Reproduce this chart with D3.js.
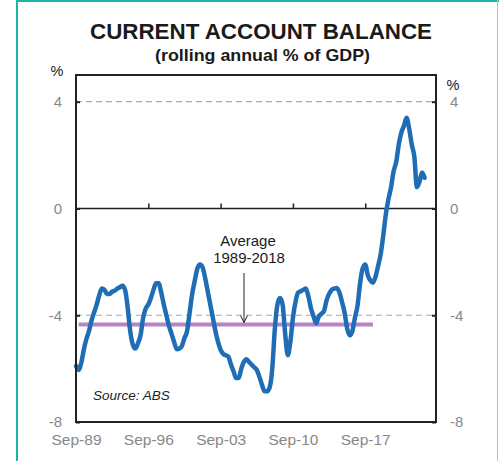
<!DOCTYPE html>
<html>
<head>
<meta charset="utf-8">
<script src="https://cdn.jsdelivr.net/npm/d3@7"></script>
<style>
  html, body { margin: 0; padding: 0; background: #fff; }
  svg { display: block; font-family: Arial, "Liberation Sans", Helvetica, sans-serif; }
</style>
</head>
<body>
<svg id="chart" width="499" height="461"></svg>
<script>
// Quarterly current account balance, rolling annual % of GDP, Sep-1989 onwards
const startYear = 1989.75;
const balance = [
  -5.9, -6.05, -5.8, -5.3, -4.9, -4.6, -4.2, -3.9, -3.6, -3.25,
  -3.0, -3.05, -3.2, -3.2, -3.12, -3.08, -3.0, -2.95, -2.9, -3.05,
  -3.7, -4.6, -5.1, -5.25, -5.05, -4.75, -4.1, -3.75, -3.6, -3.35,
  -3.05, -2.8, -2.8, -3.15, -3.6, -4.0, -4.4, -4.7, -5.0, -5.27,
  -5.25, -5.15, -4.85, -4.6, -3.9, -3.2, -2.7, -2.25, -2.1, -2.2,
  -2.6, -3.1, -3.6, -4.1, -4.6, -5.0, -5.3, -5.45, -5.5, -5.55,
  -5.85, -6.1, -6.35, -6.35, -6.0, -5.75, -5.65, -5.75, -5.85, -5.95,
  -6.05, -6.3, -6.6, -6.85, -6.85, -6.7, -6.0, -4.5, -3.6, -3.35,
  -3.6, -4.7, -5.5, -5.0, -4.1, -3.5, -3.15, -3.1, -3.05, -3.0,
  -3.3, -3.75, -4.05, -4.3, -4.05, -3.95, -3.85, -3.45, -3.2, -3.05,
  -3.0, -2.98, -3.15, -3.5, -3.9, -4.5, -4.75, -4.6, -4.1, -3.65,
  -2.8, -2.25, -2.1, -2.5, -2.7, -2.78, -2.55, -2.15, -1.7, -1.0,
  -0.2, 0.35, 0.8, 1.4, 1.75, 2.4, 2.85, 3.1, 3.4, 3.0,
  2.4, 1.95, 0.8, 1.0, 1.35, 1.15
];
// Average over 1989-2018 and the span it covers (decimal years)
const averageValue = -4.35;
const averageSpan = [1990.0, 2018.5];

const yTicks = [4, 0, -4, -8];
const gridValues = [4, -4];
const xTickYears = [1989.75, 1996.75, 2003.75, 2010.75, 2017.75];
const xTickLabels = ["Sep-89", "Sep-96", "Sep-03", "Sep-10", "Sep-17"];

const title = "CURRENT ACCOUNT BALANCE";
const subtitle = "(rolling annual % of GDP)";
const sourceNote = "Source: ABS";
const avgLabel = ["Average", "1989-2018"];

const svg = d3.select("#chart");
const plot = { left: 76, right: 436, top: 75, bottom: 422 };

const x = d3.scaleLinear().domain([1989.75, 2024.6]).range([plot.left, plot.right]);
const y = d3.scaleLinear().domain([-8, 5]).range([plot.bottom, plot.top]);

const series = balance.map((v, i) => ({ t: startYear + i * 0.25, v }));

// Outer teal frame
svg.append("line").attr("x1", 17).attr("x2", 17).attr("y1", 0).attr("y2", 461)
  .attr("stroke", "#1fb3a8").attr("stroke-width", 2);
svg.append("line").attr("x1", 16).attr("x2", 499).attr("y1", 1).attr("y2", 1)
  .attr("stroke", "#1fb3a8").attr("stroke-width", 2);
svg.append("line").attr("x1", 497.5).attr("x2", 497.5).attr("y1", 0).attr("y2", 461)
  .attr("stroke", "#86d8d1").attr("stroke-width", 1);

// Titles
svg.append("text").attr("x", 90).attr("y", 39)
  .attr("textLength", 342).attr("lengthAdjust", "spacingAndGlyphs")
  .attr("font-size", 21.5).attr("font-weight", "bold").attr("fill", "#1a1a1a").text(title);
svg.append("text").attr("x", 155).attr("y", 61)
  .attr("textLength", 215).attr("lengthAdjust", "spacingAndGlyphs")
  .attr("font-size", 16.5).attr("font-weight", "bold").attr("fill", "#1a1a1a").text(subtitle);

// Unit labels
svg.append("text").attr("x", 57).attr("y", 76).attr("text-anchor", "middle")
  .attr("font-size", 14.5).attr("fill", "#222").text("%");
svg.append("text").attr("x", 453).attr("y", 90).attr("text-anchor", "middle")
  .attr("font-size", 14.5).attr("fill", "#222").text("%");

// Dashed gridlines
svg.append("g").selectAll("line").data(gridValues).join("line")
  .attr("x1", plot.left).attr("x2", plot.right)
  .attr("y1", d => y(d)).attr("y2", d => y(d))
  .attr("stroke", "#aaaaaa").attr("stroke-width", 1.2).attr("stroke-dasharray", "6,4");

// Left and right value axes
const yFmt = d => String(d);
const leftAxis = svg.append("g").attr("transform", `translate(${plot.left},0)`)
  .call(d3.axisLeft(y).tickValues(yTicks).tickSize(-4).tickPadding(14).tickFormat(yFmt));
const rightAxis = svg.append("g").attr("transform", `translate(${plot.right},0)`)
  .call(d3.axisRight(y).tickValues(yTicks).tickSize(-4).tickPadding(14).tickFormat(yFmt));
[leftAxis, rightAxis].forEach(g => {
  g.select(".domain").remove();
  g.selectAll(".tick line").attr("stroke", "#222").attr("stroke-width", 2);
  g.selectAll(".tick text").attr("font-size", 15).attr("fill", "#888")
    .attr("font-family", "Arial, 'Liberation Sans', sans-serif");
});

// Zero line with upward ticks
const zeroAxis = svg.append("g").attr("transform", `translate(0,${y(0)})`)
  .call(d3.axisTop(x).tickValues(xTickYears.slice(1)).tickSize(5).tickFormat(""));
zeroAxis.select(".domain").remove();
zeroAxis.selectAll(".tick line").attr("stroke", "#222").attr("stroke-width", 1.5);
svg.append("line").attr("x1", plot.left).attr("x2", plot.right)
  .attr("y1", y(0)).attr("y2", y(0)).attr("stroke", "#222").attr("stroke-width", 1.5);

// Date labels under the plot
const bottomAxis = svg.append("g").attr("transform", `translate(0,${plot.bottom})`)
  .call(d3.axisBottom(x).tickValues(xTickYears).tickSize(0).tickPadding(12)
    .tickFormat((d, i) => xTickLabels[i]));
bottomAxis.select(".domain").remove();
bottomAxis.selectAll(".tick text").attr("font-size", 15.5).attr("fill", "#888")
  .attr("font-family", "Arial, 'Liberation Sans', sans-serif");

// Average line
svg.append("line")
  .attr("x1", x(averageSpan[0])).attr("x2", x(averageSpan[1]))
  .attr("y1", y(averageValue)).attr("y2", y(averageValue))
  .attr("stroke", "#b884c4").attr("stroke-width", 4);

// Balance series
const line = d3.line().x(d => x(d.t)).y(d => y(d.v)).curve(d3.curveMonotoneX);
svg.append("path").datum(series)
  .attr("d", line).attr("fill", "none")
  .attr("stroke", "#1f6db5").attr("stroke-width", 4.5)
  .attr("stroke-linejoin", "round").attr("stroke-linecap", "round");

// Plot frame
svg.append("rect").attr("x", plot.left).attr("y", plot.top)
  .attr("width", plot.right - plot.left).attr("height", plot.bottom - plot.top)
  .attr("fill", "none").attr("stroke", "#222").attr("stroke-width", 2);

// Average annotation with arrow
const arrowX = 244;
svg.append("text").attr("x", 248).attr("y", 246).attr("text-anchor", "middle")
  .attr("font-size", 15).attr("fill", "#1a1a1a").text(avgLabel[0]);
svg.append("text").attr("x", 249).attr("y", 263).attr("text-anchor", "middle")
  .attr("font-size", 15).attr("fill", "#1a1a1a").text(avgLabel[1]);
const tipY = y(averageValue) - 2;
svg.append("line").attr("x1", arrowX).attr("x2", arrowX).attr("y1", 273).attr("y2", tipY)
  .attr("stroke", "#222").attr("stroke-width", 1);
svg.append("path")
  .attr("d", `M${arrowX - 3.5},${tipY - 7} L${arrowX},${tipY} L${arrowX + 3.5},${tipY - 7}`)
  .attr("fill", "none").attr("stroke", "#222").attr("stroke-width", 1);

// Source note
svg.append("text").attr("x", 93).attr("y", 400).attr("font-size", 13.5)
  .attr("font-style", "italic").attr("fill", "#222").text(sourceNote);
</script>
</body>
</html>
